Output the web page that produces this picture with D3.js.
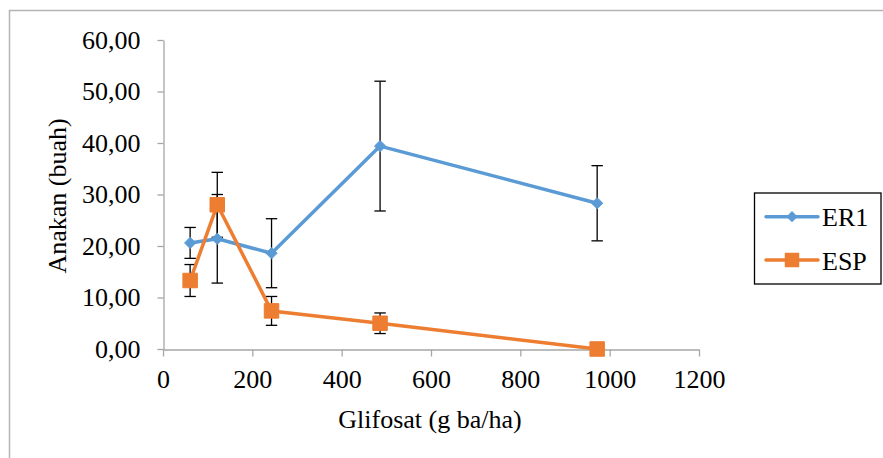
<!DOCTYPE html>
<html>
<head>
<meta charset="utf-8">
<script src="https://cdn.jsdelivr.net/npm/d3@7"></script>
<style>
  html, body { margin: 0; padding: 0; background: #fff; }
  svg { display: block; }
  svg text { font-family: "Liberation Serif", "Times New Roman", "DejaVu Serif", serif !important; fill: #000; }
</style>
</head>
<body>
<svg id="chart" width="883" height="458"></svg>
<script>
// ---- data ----
const doses = [60.75, 121.5, 243, 486, 972];
const er1Values = [20.6, 21.4, 18.6, 39.4, 28.3];
const er1Errors = [3.0, 8.6, 6.7, 12.6, 7.3];
const espValues = [13.3, 28.0, 7.4, 5.0, 0.0];
const espErrors = [3.1, 6.3, 2.8, 2.0, 0.0];
const seriesNames = ["ER1", "ESP"];
const xTicks = [0, 200, 400, 600, 800, 1000, 1200];
const yTicks = [0, 10, 20, 30, 40, 50, 60];
const xTitle = "Glifosat (g ba/ha)";
const yTitle = "Anakan (buah)";

const series = [
  { name: seriesNames[0], values: er1Values, errors: er1Errors, color: "#5B9BD5", marker: "diamond" },
  { name: seriesNames[1], values: espValues, errors: espErrors, color: "#ED7D31", marker: "square" }
];

const FONT = '"Liberation Serif", "Times New Roman", "DejaVu Serif", serif';
const FS = "26px";
const svg = d3.select("#chart").style("font-family", FONT);
const fmt = d => d.toFixed(2).replace(".", ",");

// outer border
svg.append("rect").attr("x", 9.5).attr("y", 10.5).attr("width", 900).attr("height", 500)
  .attr("fill", "none").attr("stroke", "#b4b4b4").attr("stroke-width", 1.5);

const x = d3.scaleLinear().domain([0, 1200]).range([163, 699]);
const y = d3.scaleLinear().domain([0, 60]).range([349, 40]);

const axisColor = "#a6a6a6";

// y axis
const yAxis = svg.append("g").attr("transform", "translate(163.5,0)")
  .call(d3.axisLeft(y).tickValues(yTicks).tickFormat(fmt).tickSize(6).tickSizeOuter(0).tickPadding(17));
yAxis.attr("font-family", null).attr("font-size", null).style("font-family", FONT);
yAxis.select(".domain").attr("stroke", axisColor).attr("stroke-width", 1.3);
yAxis.selectAll(".tick line").attr("stroke", axisColor).attr("stroke-width", 1.3);
yAxis.selectAll("text").style("font-size", FS).attr("fill", "#000");

// x axis
const xAxis = svg.append("g").attr("transform", "translate(0,349.5)")
  .call(d3.axisBottom(x).tickValues(xTicks).tickFormat(d3.format("d")).tickSize(7).tickSizeOuter(0).tickPadding(13));
xAxis.attr("font-family", null).attr("font-size", null).style("font-family", FONT);
xAxis.select(".domain").attr("stroke", axisColor).attr("stroke-width", 1.3);
xAxis.selectAll(".tick line").attr("stroke", axisColor).attr("stroke-width", 1.3);
xAxis.selectAll("text").style("font-size", FS).attr("fill", "#000");

// axis titles
svg.append("text").attr("x", 430).attr("y", 428).attr("text-anchor", "middle")
  .style("font-size", FS).text(xTitle);
svg.append("text").attr("transform", "translate(66,196) rotate(-90)").attr("text-anchor", "middle")
  .style("font-size", FS).text(yTitle);

const symDiamond = d3.symbol().type(d3.symbolDiamond2).size(80);
const symSquare = d3.symbol().type(d3.symbolSquare).size(210);

// error bars
series.forEach(s => {
  const g = svg.append("g").attr("stroke", "#000").attr("stroke-width", 1.3);
  doses.forEach((d, i) => {
    const e = s.errors[i];
    if (e <= 0) return;
    const cx = x(d);
    g.append("line").attr("x1", cx).attr("x2", cx).attr("y1", y(s.values[i] + e)).attr("y2", y(s.values[i] - e));
    [s.values[i] + e, s.values[i] - e].forEach(v => {
      g.append("line").attr("x1", cx - 5.7).attr("x2", cx + 5.7).attr("y1", y(v)).attr("y2", y(v));
    });
  });
});

// lines and markers
const line = d3.line().x((d, i) => x(doses[i])).y(d => y(d));
series.forEach(s => {
  svg.append("path").datum(s.values).attr("d", line).attr("fill", "none")
    .attr("stroke", s.color).attr("stroke-width", 3.5).attr("stroke-linejoin", "round").attr("stroke-linecap", "round");
  svg.append("g").selectAll("path").data(s.values).join("path")
    .attr("transform", (d, i) => `translate(${x(doses[i])},${y(d)})`)
    .attr("d", s.marker === "diamond" ? symDiamond : symSquare)
    .attr("fill", s.color).attr("stroke", s.color).attr("stroke-width", 1);
});

// legend
svg.append("rect").attr("x", 754.5).attr("y", 193).attr("width", 126.5).attr("height", 91)
  .attr("fill", "#fff").attr("stroke", "#000").attr("stroke-width", 1.3);
series.forEach((s, i) => {
  const ly = 216.7 + i * 43.3;
  svg.append("line").attr("x1", 766).attr("x2", 818).attr("y1", ly).attr("y2", ly)
    .attr("stroke", s.color).attr("stroke-width", 3.5).attr("stroke-linecap", "round");
  svg.append("path").attr("transform", `translate(792,${ly})`)
    .attr("d", s.marker === "diamond" ? symDiamond : symSquare).attr("fill", s.color);
  svg.append("text").attr("x", 822).attr("y", ly + 9.5).style("font-size", FS).text(s.name);
});
</script>
</body>
</html>
